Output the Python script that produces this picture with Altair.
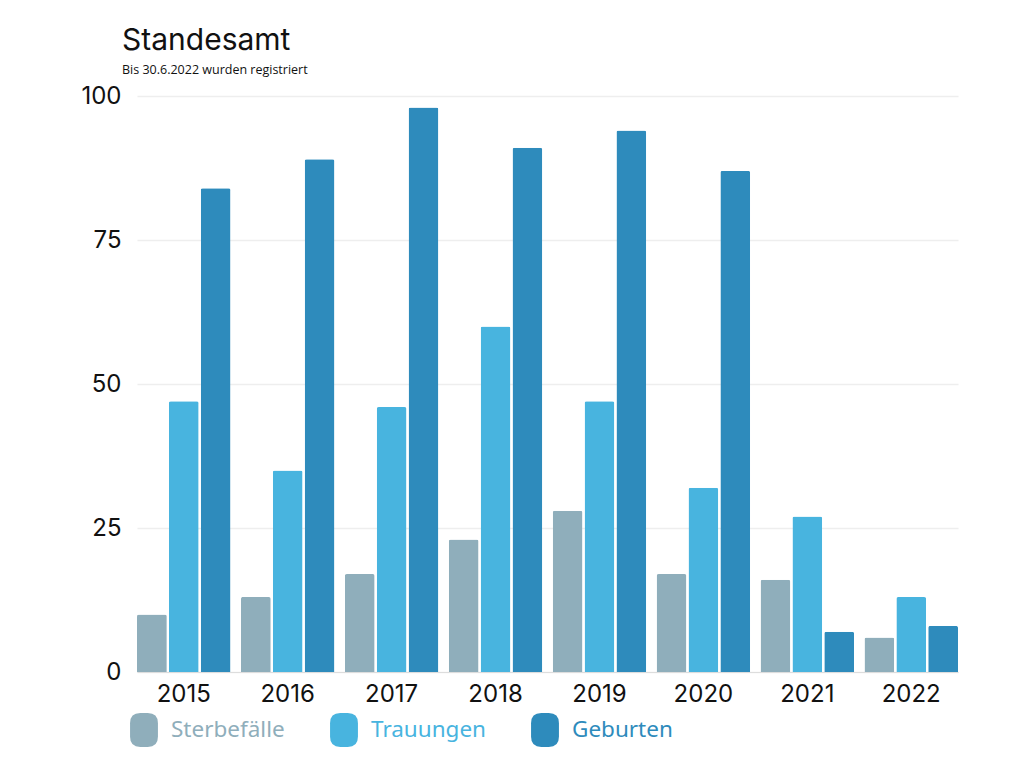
import altair as alt
import pandas as pd

years = ["2015", "2016", "2017", "2018", "2019", "2020", "2021", "2022"]
series = ["Sterbefälle", "Trauungen", "Geburten"]
sterbefaelle = [10, 13, 17, 23, 28, 17, 16, 6]
trauungen = [47, 35, 46, 60, 47, 32, 27, 13]
geburten = [84, 89, 98, 91, 94, 87, 7, 8]
colors = ["#8FAEBB", "#48B4DF", "#2E8BBC"]

rows = []
for name, vals in zip(series, [sterbefaelle, trauungen, geburten]):
    for y, v in zip(years, vals):
        rows.append({"Jahr": y, "Serie": name, "Wert": v})
df = pd.DataFrame(rows)

label_expr = (
    f"datum.value == '{series[0]}' ? '{colors[0]}' : "
    f"datum.value == '{series[1]}' ? '{colors[1]}' : '{colors[2]}'"
)

stadium = ("M -0.82 -0.4 Q -0.82 -1 -0.22 -1 L 0.22 -1 Q 0.82 -1 0.82 -0.4 "
           "L 0.82 0.4 Q 0.82 1 0.22 1 L -0.22 1 Q -0.82 1 -0.82 0.4 Z")

chart = alt.Chart(df).mark_bar(
    cornerRadiusTopLeft=2, cornerRadiusTopRight=2
).encode(
    x=alt.X("Jahr:N", sort=years, title=None,
            scale=alt.Scale(paddingInner=0.1, paddingOuter=0),
            axis=alt.Axis(labelAngle=0, labelFontSize=24, labelFont="Inter",
                          labelColor="#111111", labelPadding=10, ticks=False,
                          domain=True, domainColor="#dddddd", grid=False)),
    xOffset=alt.XOffset("Serie:N", sort=series,
                        scale=alt.Scale(paddingInner=0.065, paddingOuter=0)),
    y=alt.Y("Wert:Q", title=None,
            scale=alt.Scale(domain=[0, 100], nice=False),
            axis=alt.Axis(values=[0, 25, 50, 75, 100], labelFontSize=24,
                          labelFont="Inter", labelColor="#111111",
                          labelPadding=16, ticks=False, domain=False,
                          grid=True, gridColor="#eeeeee", gridWidth=1.5)),
    color=alt.Color("Serie:N", sort=series,
                    scale=alt.Scale(domain=series, range=colors),
                    legend=alt.Legend(
                        title=None, orient="none", direction="horizontal",
                        legendX=-10, legendY=617, columns=3,
                        symbolType=stadium, symbolSize=1156,
                        symbolStrokeWidth=0, symbolOpacity=1,
                        labelFontSize=22.5, labelFont="Noto Sans",
                        labelColor=alt.ExprRef(label_expr),
                        labelOffset=10, columnPadding=42, padding=0,
                        labelLimit=300)),
).properties(
    width=821,
    height=576,
    title=alt.TitleParams(
        text="Standesamt",
        subtitle="Bis 30.6.2022 wurden registriert",
        anchor="start", frame="group", dx=-15,
        fontSize=30, font="Inter", fontWeight="normal", color="#111111",
        subtitleFontSize=12.5, subtitleFont="Open Sans",
        subtitleColor="#111111", subtitlePadding=8, offset=8,
    ),
    autosize=alt.AutoSizeParams(type="none"),
    padding={"left": 129, "top": 88, "right": 50, "bottom": 80},
).configure_view(stroke=None)

chart.save("out.html", embed_options={"renderer": "svg", "actions": False})
